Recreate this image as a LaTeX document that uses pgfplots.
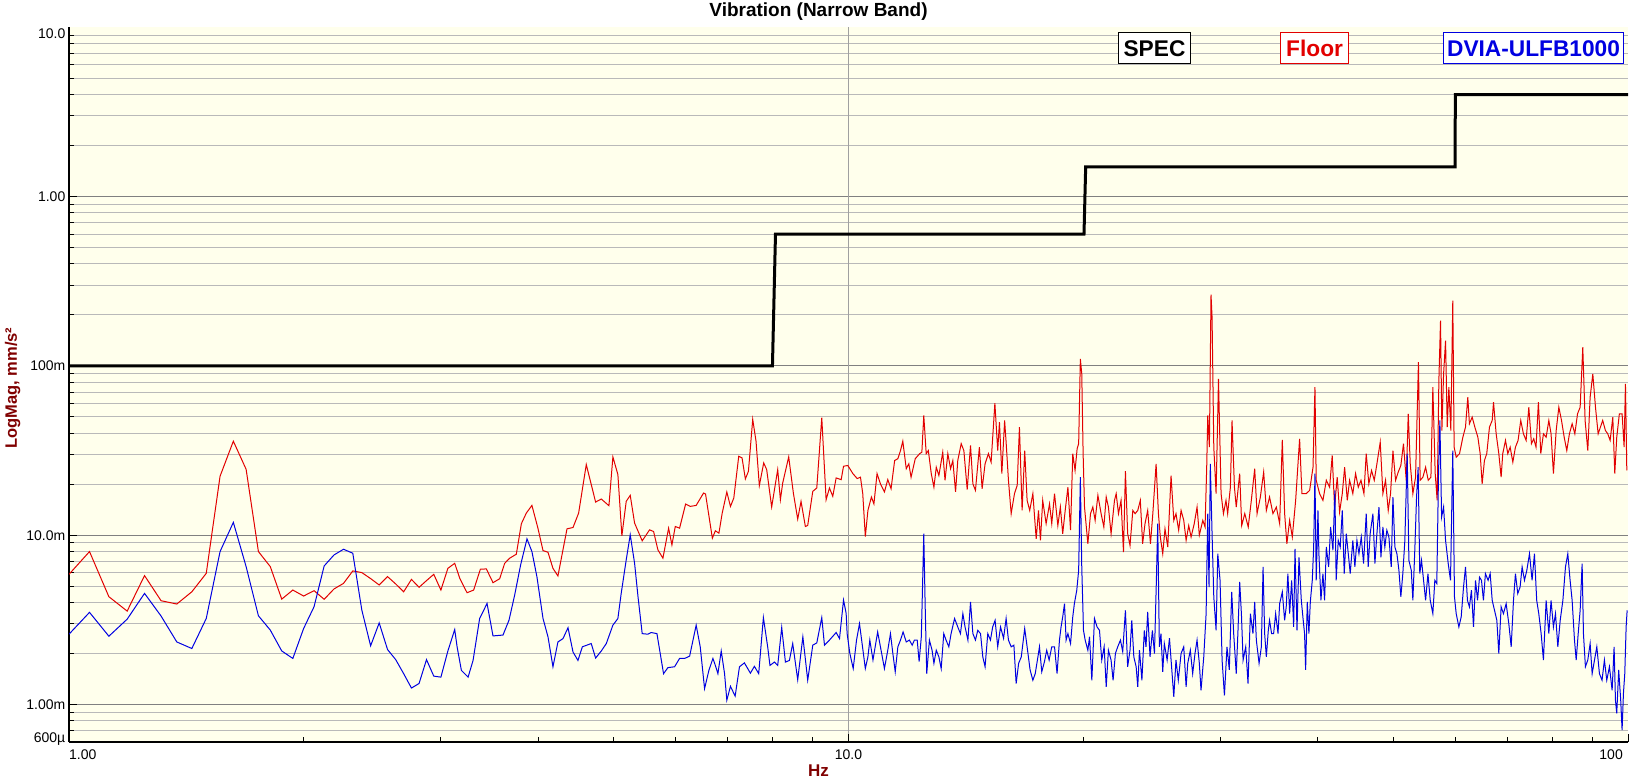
\documentclass[border=0pt]{standalone}
\usepackage{fontspec}
\setmainfont{Liberation Sans}
\usepackage{pgfplots}
\pgfplotsset{compat=1.18}
\definecolor{bgy}{RGB}{255,255,236}
\definecolor{majg}{RGB}{128,128,128}
\definecolor{ming}{RGB}{185,185,185}
\definecolor{fred}{RGB}{226,0,0}
\definecolor{dblue}{RGB}{0,0,225}
\definecolor{lblred}{RGB}{128,0,0}
\begin{document}
\begin{tikzpicture}[x=1pt,y=1pt]
\begin{axis}[
  at={(0,0)}, anchor=south west,
  scale only axis, width=1559pt, height=714.7pt,
  xmode=log, ymode=log,
  xmin=1, xmax=100, ymin=6e-4, ymax=10,
  axis x line*=bottom, axis y line*=left,
  axis line style={line width=2pt,-},
  axis background/.style={fill=bgy},
  xtick={1,10,100}, xticklabels={},
  minor xtick={2,3,4,5,6,7,8,9,20,30,40,50,60,70,80,90},
  ytick={1e-3,1e-2,1e-1,1}, yticklabels={},
  minor ytick={7e-4,8e-4,9e-4,2e-3,3e-3,4e-3,5e-3,6e-3,7e-3,8e-3,9e-3,2e-2,3e-2,4e-2,5e-2,6e-2,7e-2,8e-2,9e-2,2e-1,3e-1,4e-1,5e-1,6e-1,7e-1,8e-1,9e-1,2,3,4,5,6,7,8,9},
  tick pos=left, tick align=inside,
  major tick length=8pt, minor tick length=5pt,
  every tick/.style={black, line width=1pt},
  ymajorgrids, yminorgrids,
  major grid style={majg, line width=1pt},
  minor grid style={ming, line width=1pt},
  extra x ticks={10}, extra x tick labels={},
  extra x tick style={grid=major, major grid style={draw=majg!75, line width=1pt}},
]
% Floor (red)
\addplot[fred, line width=1pt] coordinates {
(1.0,0.00587)(1.0625,0.0080)(1.125,0.00433)(1.1875,0.00356)(1.25,0.00577)(1.3125,0.00410)(1.375,0.00392)(1.4375,0.00463)(1.5,0.00595)(1.5625,0.0223)(1.625,0.0359)(1.6875,0.0245)(1.75,0.0080)(1.8125,0.00652)(1.875,0.00419)(1.9375,0.00474)(2.0,0.00437)(2.0625,0.00470)(2.125,0.00418)(2.1875,0.00481)(2.25,0.00519)(2.3125,0.00615)(2.375,0.00601)(2.4375,0.00554)(2.5,0.00508)(2.5625,0.00569)(2.625,0.00515)(2.6875,0.00463)(2.75,0.00548)(2.8125,0.00492)(2.875,0.00539)(2.9375,0.00587)(3.0,0.00474)(3.0625,0.00637)(3.125,0.00682)
(3.172,0.00556)(3.241,0.00457)(3.305,0.00474)(3.371,0.00629)(3.431,0.00632)(3.499,0.00524)(3.569,0.00553)(3.622,0.00682)(3.676,0.00731)(3.749,0.00772)(3.805,0.01168)(3.861,0.01350)(3.926,0.01499)(3.996,0.01100)(4.056,0.00811)(4.116,0.00793)(4.177,0.00637)(4.239,0.00574)(4.354,0.01090)(4.432,0.01110)(4.506,0.01350)(4.609,0.02612)(4.738,0.01569)(4.818,0.01635)(4.928,0.01493)(4.986,0.0290)(5.060,0.0228)(5.120,0.00991)(5.186,0.01583)(5.248,0.01719)(5.316,0.01178)(5.437,0.00926)(5.557,0.01075)(5.623,0.01051)(5.695,0.00819)(5.780,0.00731)(5.878,0.01100)(5.936,0.00876)(5.995,0.01125)(6.072,0.01100)(6.181,0.01527)(6.267,0.01479)(6.377,0.01499)(6.518,0.01775)(6.556,0.01751)(6.689,0.00960)(6.749,0.01061)(6.820,0.01028)(6.887,0.01350)(6.981,0.01799)(7.057,0.01479)(7.127,0.01657)(7.232,0.02927)(7.303,0.02861)(7.375,0.02148)(7.441,0.02385)(7.536,0.0483)(7.611,0.0359)(7.686,0.01961)(7.785,0.02672)(7.854,0.02440)(7.971,0.01466)(8.113,0.02440)(8.178,0.01620)(8.234,0.02034)(8.381,0.0290)(8.497,0.01775)(8.607,0.01244)(8.692,0.01583)(8.804,0.01125)(8.865,0.01141)(8.999,0.01815)(9.106,0.01900)(9.241,0.0494)(9.360,0.01620)(9.453,0.01900)(9.546,0.01696)(9.641,0.02177)(9.786,0.02128)(9.854,0.02553)
(9.98,0.0258)(10.13,0.0231)(10.26,0.0216)(10.36,0.0220)(10.43,0.0176)(10.51,0.0098)(10.59,0.0140)(10.70,0.0168)(10.78,0.0153)(10.88,0.0231)(10.99,0.0201)(11.12,0.0180)(11.23,0.0213)(11.34,0.0188)(11.46,0.0276)(11.57,0.0283)(11.66,0.0316)(11.74,0.0359)(11.86,0.0247)(11.95,0.0264)(12.03,0.0220)(12.18,0.0283)(12.34,0.0303)(12.42,0.0309)(12.49,0.0510)(12.58,0.0303)(12.66,0.0316)(12.77,0.0231)(12.87,0.0192)(12.96,0.0252)(13.06,0.0225)(13.21,0.0309)(13.30,0.0211)(13.41,0.0303)(13.52,0.0247)(13.61,0.0276)(13.72,0.0180)(13.81,0.0276)(13.95,0.0347)(14.06,0.0316)(14.20,0.0186)(14.34,0.0339)(14.44,0.0201)(14.55,0.0184)(14.72,0.0331)(14.84,0.0188)(14.97,0.0264)(15.12,0.0303)(15.24,0.0270)(15.41,0.0602)(15.54,0.0316)(15.62,0.0465)(15.73,0.0231)(15.86,0.0476)(15.93,0.0354)(16.04,0.0211)(16.17,0.0134)(16.33,0.0176)(16.46,0.0197)(16.57,0.0435)(16.70,0.0140)(16.83,0.0316)(16.95,0.01605)(17.08,0.0140)(17.24,0.0176)(17.41,0.0095)(17.53,0.0140)(17.63,0.00932)(17.75,0.01605)(17.93,0.0117)(18.11,0.0153)(18.23,0.0117)(18.38,0.0176)(18.56,0.0114)(18.70,0.01466)(18.83,0.0102)(18.97,0.0140)(19.12,0.0192)(19.27,0.0107)(19.40,0.0303)(19.53,0.0241)(19.65,0.0324)(19.74,0.0347)(19.84,0.1100)(19.92,0.0897)(20.00,0.0303)(20.08,0.01466)(20.28,0.0089)(20.44,0.0134)(20.58,0.01466)(20.72,0.01223)(20.89,0.0172)(21.09,0.0134)(21.26,0.01117)(21.41,0.0168)(21.55,0.01466)(21.72,0.0102)(21.94,0.01605)(22.05,0.0176)(22.20,0.0134)(22.37,0.01605)(22.53,0.00795)(22.66,0.0239)(22.81,0.0102)(22.97,0.0087)(23.16,0.0140)(23.32,0.0134)(23.50,0.0140)(23.68,0.01605)(23.84,0.0089)(24.01,0.0117)(24.20,0.0140)(24.40,0.0089)(24.57,0.0134)(24.81,0.0264)(24.98,0.0134)(25.12,0.00975)(25.30,0.00777)(25.47,0.0109)(25.68,0.00851)(25.93,0.0225)(26.14,0.01223)(26.31,0.0134)(26.52,0.0107)(26.71,0.0140)(26.92,0.01223)(27.11,0.00932)(27.32,0.0114)(27.51,0.00975)(27.77,0.0117)(28.00,0.01466)(28.19,0.0100)(28.48,0.01223)(28.67,0.01117)(28.81,0.0252)(28.90,0.0510)(29.04,0.0331)(29.18,0.2638)(29.27,0.1937)(29.42,0.0331)(29.62,0.0176)(29.83,0.0838)(30.06,0.0176)(30.27,0.0134)(30.50,0.01605)(30.65,0.0134)(30.90,0.0192)(31.05,0.0476)(31.27,0.0192)
(31.44,0.01466)(31.76,0.0231)(31.95,0.0114)(32.24,0.0134)(32.57,0.01117)(32.87,0.01605)(33.20,0.0247)(33.43,0.0134)(33.76,0.0168)(34.09,0.0236)(34.36,0.0140)(34.69,0.0168)(35.04,0.0134)(35.39,0.01466)(35.74,0.0117)(36.02,0.0366)(36.27,0.0134)(36.51,0.0089)(36.81,0.01223)(37.10,0.00975)(37.47,0.01605)(37.91,0.0371)(38.17,0.0176)(38.67,0.0176)(39.05,0.0184)(39.44,0.0252)(39.67,0.0748)(39.82,0.0211)(40.21,0.0176)(40.61,0.01605)(41.02,0.0211)(41.42,0.0192)(41.74,0.0296)(42.03,0.01466)(42.36,0.0220)(42.66,0.0137)(43.00,0.0176)(43.30,0.0252)(43.64,0.01605)(43.94,0.0211)(44.36,0.0176)(44.72,0.0231)(45.08,0.0192)(45.44,0.0211)(45.84,0.0176)(46.15,0.0303)(46.51,0.0201)(46.88,0.0241)(47.26,0.0211)(47.63,0.0264)(48.10,0.0354)(48.48,0.0176)(48.86,0.0211)(49.25,0.0140)(49.59,0.0176)(49.94,0.0316)(50.33,0.0211)(50.73,0.0236)(51.12,0.0258)(51.52,0.0347)(51.94,0.0211)(52.25,0.0521)(52.56,0.0264)(52.97,0.0176)(53.39,0.0220)(53.85,0.1051)(54.12,0.0211)(54.56,0.0220)(55.00,0.0252)(55.43,0.0211)(55.87,0.0220)(56.19,0.0748)(56.58,0.0231)(56.91,0.01605)(57.20,0.0819)(57.48,0.1852)(57.71,0.0415)(58.00,0.0897)(58.34,0.1411)(58.63,0.0435)(58.91,0.0748)(59.26,0.0415)(59.60,0.2429)(59.84,0.0331)(60.20,0.0289)(60.80,0.0303)(61.40,0.0379)(61.88,0.0435)(62.30,0.0653)(62.60,0.0455)(63.11,0.0498)(63.61,0.0435)(64.18,0.0379)(64.62,0.0303)(65.00,0.0201)(65.44,0.0276)(65.89,0.0303)(66.42,0.0435)(66.96,0.0476)(67.22,0.0610)(67.75,0.0397)(68.28,0.0303)(68.75,0.0220)(69.08,0.0303)(69.64,0.0363)(70.12,0.0303)(70.61,0.0331)(71.17,0.0270)(71.72,0.0331)(72.28,0.0363)(72.85,0.0476)(73.43,0.0397)(74.02,0.0363)(74.61,0.0570)(75.19,0.0347)(75.71,0.0371)(76.22,0.0331)(76.76,0.0610)(77.30,0.0303)(77.91,0.0397)(78.53,0.0379)(79.15,0.0476)(79.68,0.0397)(80.23,0.0231)(80.88,0.0415)(81.52,0.0570)(82.17,0.0476)(82.82,0.0379)(83.46,0.0316)(84.11,0.0397)(84.79,0.0455)(85.47,0.0397)(86.15,0.0521)(86.82,0.0570)(87.50,0.1289)(88.10,0.0476)(88.80,0.0316)(89.42,0.0653)(90.13,0.0897)(90.84,0.0570)(91.56,0.0397)(92.18,0.0435)(92.80,0.0476)(93.55,0.0415)(94.20,0.0397)(94.86,0.0363)(95.61,0.0498)(96.17,0.0231)(96.73,0.0379)(97.48,0.0521)(98.27,0.0521)(98.86,0.0331)(99.25,0.0783)(99.65,0.0241)
};
% DVIA-ULFB1000 (blue)
\addplot[dblue, line width=1pt] coordinates {
(1.0,0.00260)(1.0625,0.00350)(1.125,0.00253)(1.1875,0.00319)(1.25,0.00453)(1.3125,0.00333)(1.375,0.00234)(1.4375,0.00214)(1.5,0.00322)(1.5625,0.0080)(1.625,0.0119)(1.6875,0.00652)(1.75,0.00334)(1.8125,0.00275)(1.875,0.00207)(1.9375,0.00187)(2.0,0.00281)(2.0625,0.00378)(2.125,0.00658)(2.1875,0.00764)(2.25,0.00826)(2.3125,0.00782)(2.375,0.00361)(2.4375,0.00222)(2.5,0.00303)(2.5625,0.00211)(2.625,0.00184)(2.6875,0.00152)(2.75,0.00125)(2.8125,0.00133)(2.875,0.00184)(2.9375,0.00147)(3.0,0.00145)(3.0625,0.00207)(3.125,0.00277)
(3.147,0.00219)(3.187,0.00159)(3.251,0.00145)(3.299,0.00182)(3.364,0.00322)(3.438,0.00395)(3.499,0.00254)(3.604,0.00257)(3.669,0.00315)(3.731,0.00443)(3.797,0.00667)(3.869,0.00951)(3.926,0.00800)(3.984,0.00569)(4.056,0.00322)(4.116,0.00251)(4.177,0.00167)(4.239,0.00234)(4.303,0.00245)(4.367,0.00284)(4.432,0.00204)(4.497,0.00182)(4.556,0.00219)(4.677,0.00229)(4.738,0.00188)(4.818,0.00207)(4.890,0.00229)(4.986,0.00294)(5.060,0.00322)(5.110,0.00453)(5.186,0.00714)(5.248,0.01005)(5.316,0.00682)(5.370,0.00433)(5.437,0.00262)(5.530,0.00260)(5.585,0.00266)(5.679,0.00262)(5.791,0.00152)(5.866,0.00165)(5.983,0.00167)(6.072,0.00187)(6.163,0.00187)(6.255,0.00193)(6.377,0.00294)(6.454,0.00219)(6.537,0.00124)(6.621,0.00159)(6.700,0.00187)(6.749,0.00170)(6.800,0.00152)(6.867,0.00207)(6.935,0.00152)(6.981,0.00106)(7.057,0.00128)(7.155,0.00112)(7.247,0.00167)(7.354,0.00176)(7.485,0.00153)(7.574,0.00168)(7.671,0.00152)(7.778,0.00326)(7.877,0.00219)(7.931,0.00170)(8.034,0.00178)(8.113,0.00170)(8.210,0.00285)(8.300,0.00178)(8.398,0.00182)(8.481,0.00229)(8.607,0.00140)(8.739,0.00251)(8.865,0.00139)(8.999,0.00224)(9.106,0.00231)(9.241,0.00326)(9.315,0.00224)(9.453,0.00240)(9.641,0.00266)(9.738,0.00245)(9.854,0.00414)(9.931,0.00345)
(9.96,0.00262)(10.04,0.00200)(10.14,0.00163)(10.24,0.00240)(10.33,0.00300)(10.41,0.00229)(10.51,0.00163)(10.59,0.00191)(10.65,0.00240)(10.75,0.00183)(10.82,0.00219)(10.90,0.00268)(11.01,0.00209)(11.12,0.00163)(11.23,0.00209)(11.32,0.00262)(11.40,0.00200)(11.48,0.00156)(11.57,0.00219)(11.66,0.00240)(11.75,0.00268)(11.86,0.00234)(11.97,0.00240)(12.07,0.00224)(12.15,0.00240)(12.25,0.00240)(12.32,0.00179)(12.40,0.00251)(12.45,0.00541)(12.49,0.0102)(12.54,0.00394)(12.60,0.00152)(12.70,0.00240)(12.80,0.00209)(12.87,0.00175)(12.96,0.00209)(13.06,0.00191)(13.15,0.00163)(13.25,0.00262)(13.34,0.00240)(13.45,0.00219)(13.54,0.00262)(13.68,0.00322)(13.81,0.00287)(13.92,0.00262)(14.02,0.00344)(14.11,0.00287)(14.23,0.00240)(14.34,0.00403)(14.44,0.00262)(14.55,0.00240)(14.65,0.00274)(14.77,0.00262)(14.87,0.00191)(14.97,0.00167)(15.09,0.00262)(15.21,0.00240)(15.31,0.00287)(15.42,0.00314)(15.54,0.00219)(15.67,0.00287)(15.81,0.00246)(15.93,0.00322)(16.04,0.00240)(16.17,0.00219)(16.30,0.00224)(16.41,0.00133)(16.53,0.00175)(16.66,0.00191)(16.83,0.00281)(16.95,0.00219)(17.10,0.00160)(17.24,0.00139)(17.36,0.00152)(17.50,0.00191)(17.58,0.00219)(17.70,0.00156)(17.84,0.00179)(17.96,0.00209)(18.09,0.00183)(18.23,0.00219)(18.38,0.00219)(18.52,0.00152)(18.65,0.00240)(18.74,0.00287)(18.83,0.00329)(18.93,0.00394)(19.02,0.00240)(19.12,0.00262)(19.27,0.00229)(19.40,0.00329)(19.49,0.00394)(19.63,0.00473)(19.74,0.0062)(19.84,0.0220)(19.92,0.00649)(20.02,0.00274)(20.12,0.00240)(20.28,0.00209)(20.38,0.00251)(20.52,0.00139)(20.68,0.00322)(20.84,0.00287)(20.99,0.00274)(21.13,0.00183)(21.28,0.00219)(21.41,0.00127)(21.55,0.00209)(21.72,0.00183)(21.85,0.00139)(22.00,0.00200)(22.15,0.00219)(22.33,0.00240)(22.48,0.00205)(22.66,0.00360)(22.81,0.00167)(22.97,0.00209)(23.09,0.00314)(23.23,0.00191)(23.39,0.00167)(23.50,0.00127)(23.62,0.00209)(23.79,0.00139)(23.96,0.00274)(24.08,0.00219)(24.20,0.00352)(24.37,0.00191)(24.54,0.00274)(24.69,0.00200)(24.83,0.00541)(24.93,0.0117)(25.05,0.00219)(25.17,0.00262)(25.30,0.00156)(25.42,0.00229)(25.63,0.00183)(25.81,0.00246)(26.01,0.00152)(26.14,0.00111)(26.31,0.00183)(26.49,0.00139)(26.71,0.00200)(26.92,0.00219)(27.11,0.00127)(27.24,0.00175)(27.45,0.00209)(27.64,0.00152)(27.83,0.00200)(28.00,0.00240)(28.19,0.00175)(28.33,0.00121)(28.56,0.00191)(28.76,0.00344)(28.90,0.0134)(29.01,0.00494)(29.12,0.0264)(29.27,0.0102)(29.42,0.00432)(29.62,0.00274)(29.77,0.00777)(29.97,0.00541)(30.15,0.00183)(30.36,0.00113)(30.59,0.00219)(30.80,0.00160)(31.02,0.00462)(31.20,0.00262)
(31.44,0.00152)(31.60,0.00274)(31.76,0.0053)(31.92,0.00344)(32.08,0.00183)(32.33,0.00219)(32.55,0.00133)(32.78,0.00344)(33.03,0.00262)(33.20,0.00403)(33.36,0.00240)(33.63,0.00175)(33.86,0.00219)(34.03,0.00649)(34.19,0.00262)(34.36,0.00191)(34.56,0.00274)(34.69,0.00314)(34.90,0.00262)(35.11,0.00262)(35.32,0.00344)(35.57,0.00262)(35.74,0.00394)(36.02,0.00462)(36.27,0.00314)(36.44,0.00377)(36.62,0.00593)(36.81,0.00344)(37.03,0.00541)(37.25,0.00287)(37.40,0.0083)(37.62,0.00274)(37.84,0.0074)(38.10,0.00412)(38.28,0.00329)(38.47,0.00262)(38.59,0.00160)(38.78,0.00403)(38.97,0.00262)(39.13,0.00403)(39.36,0.00541)(39.52,0.00851)(39.67,0.0231)(39.82,0.00541)(40.02,0.0140)(40.13,0.00777)(40.37,0.00412)(40.61,0.00593)(40.81,0.00412)(41.02,0.00851)(41.30,0.00649)(41.54,0.01117)(41.83,0.00815)(42.07,0.0184)(42.23,0.00541)(42.49,0.00932)(42.74,0.00851)(43.00,0.0140)(43.25,0.00593)(43.51,0.0102)(43.77,0.00777)(44.02,0.00593)(44.36,0.00932)(44.63,0.00649)(44.90,0.00932)(45.17,0.00777)(45.48,0.00975)(45.79,0.0068)(46.15,0.0134)(46.42,0.00649)(46.69,0.0102)(47.07,0.0134)(47.35,0.0068)(47.63,0.0102)(47.92,0.01466)(48.20,0.0074)(48.48,0.01117)(48.76,0.00851)(49.05,0.0107)(49.35,0.00975)(49.69,0.00649)(49.94,0.0168)(50.23,0.00851)(50.53,0.00777)(50.83,0.0062)(51.12,0.00432)(51.42,0.00593)(51.73,0.00932)(52.09,0.0303)(52.35,0.0071)(52.72,0.0062)(52.97,0.00412)(53.29,0.00851)(53.55,0.0168)(53.80,0.0252)(54.06,0.00593)(54.34,0.0071)(54.67,0.00541)(55.00,0.00412)(55.38,0.00593)(55.76,0.00412)(56.19,0.00344)(56.52,0.00541)(56.85,0.00518)(57.14,0.0231)(57.37,0.0476)(57.66,0.0128)(58.00,0.01466)(58.34,0.00932)(58.80,0.0068)(59.20,0.00541)(59.60,0.0316)(59.90,0.00432)(60.20,0.00344)(60.68,0.00287)(61.10,0.00329)(61.52,0.00494)(61.88,0.00649)(62.24,0.00412)(62.60,0.00377)(62.98,0.00473)(63.36,0.00287)(63.74,0.00541)(64.12,0.00412)(64.50,0.00565)(64.87,0.00541)(65.25,0.00412)(65.63,0.00593)(66.16,0.00541)(66.56,0.00593)(66.96,0.00412)(67.42,0.00360)(67.88,0.00314)(68.28,0.00200)(68.75,0.00377)(69.22,0.00344)(69.78,0.00394)(70.33,0.00300)(70.82,0.00219)(71.31,0.00412)(71.72,0.00593)(72.21,0.00452)(72.71,0.00494)(73.15,0.00649)(73.66,0.00541)(74.17,0.0062)(74.76,0.00777)(75.34,0.00541)(75.86,0.00777)(76.37,0.00412)(76.84,0.00344)(77.38,0.00262)(77.91,0.00183)(78.53,0.00412)(79.15,0.00262)(79.68,0.00412)(80.23,0.00287)(80.72,0.00344)(81.28,0.00219)(81.85,0.00314)(82.50,0.00412)(83.14,0.00649)(83.71,0.00777)(84.28,0.00541)(84.79,0.00412)(85.38,0.00240)(85.81,0.00183)(86.32,0.00262)(86.82,0.00360)(87.33,0.0068)(87.67,0.00262)(88.18,0.00167)(88.80,0.00183)(89.42,0.00229)(89.95,0.00152)(90.58,0.00183)(91.20,0.00219)(91.91,0.00152)(92.62,0.00139)(93.27,0.00183)(93.92,0.00139)(94.67,0.00167)(95.42,0.00121)(95.98,0.00219)(96.36,0.00106)(96.73,0.000885)(97.29,0.00160)(97.87,0.00106)(98.27,0.000705)(98.66,0.00116)(99.05,0.00152)(99.45,0.00287)(99.75,0.00360)
};
% SPEC (black)
\addplot[black, line width=3pt] coordinates {
(1,0.1)(7.99,0.1)(8.06,0.6)(20.05,0.6)(20.15,1.5)(60,1.5)(60.05,4)(100,4)
};
\end{axis}
% tick labels
\begin{scope}[every node/.style={font=\fontsize{14}{16}\selectfont, inner sep=0pt}]
\node[anchor=east, text height=10pt, text depth=0pt] at (-3.5,708) {10.0};
\node[anchor=east, text height=10pt, text depth=0pt] at (-3.5,545.5) {1.00};
\node[anchor=east, text height=10pt, text depth=0pt] at (-3.5,376.2) {100m};
\node[anchor=east, text height=10pt, text depth=0pt] at (-3.5,206.9) {10.0m};
\node[anchor=east, text height=10pt, text depth=0pt] at (-3.5,37.6) {1.00m};
\node[anchor=east, text height=10pt, text depth=0pt] at (-3.5,5) {600µ};
\node[anchor=base west] at (0,-17) {1.00};
\node[anchor=base] at (779.5,-17) {10.0};
\node[anchor=base east] at (1554,-17) {100};
\end{scope}
% title and axis labels
\node[anchor=base, font=\fontsize{19}{21}\selectfont\bfseries] at (749.5,725) {Vibration (Narrow Band)};
\node[anchor=base, font=\fontsize{17}{19}\selectfont\bfseries, text=lblred] at (749.5,-34) {Hz};
\node[anchor=base, rotate=90, font=\fontsize{16.5}{19}\selectfont\bfseries, text=lblred] at (-52,354) {LogMag, mm/s²};
% legend boxes
\begin{scope}[every node/.style={font=\fontsize{22.7}{25}\selectfont\bfseries, fill=white, line width=1pt, text height=16.3pt, text depth=0pt, inner ysep=7.5pt}]
\node[draw=black, text=black, inner xsep=5pt] at (1085.5,694) {SPEC};
\node[draw=fred, text=fred, inner xsep=6pt] at (1245.6,694) {Floor};
\node[draw=dblue, text=dblue, inner xsep=4pt] at (1464.5,694) {DVIA-ULFB1000};
\end{scope}
\pgfresetboundingbox
\path[use as bounding box] (-69,-40) rectangle (1568,742);
\end{tikzpicture}
\end{document}
